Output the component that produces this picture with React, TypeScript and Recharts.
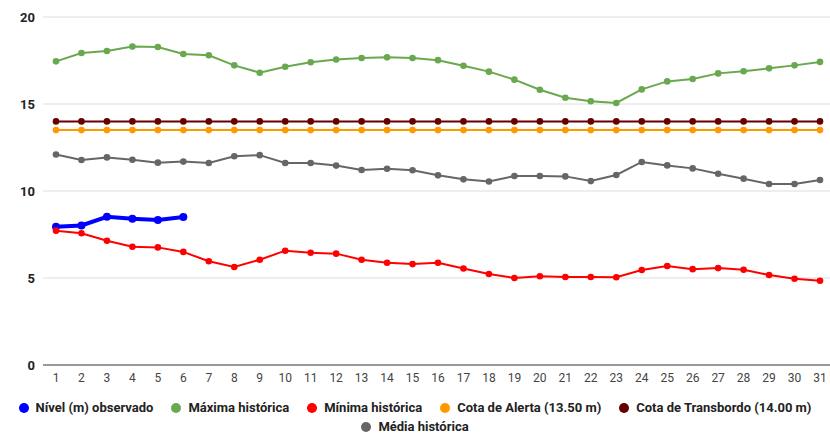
import { LineChart, Line, XAxis, YAxis, CartesianGrid, Legend } from "recharts";

const days = Array.from({ length: 31 }, (_, i) => String(i + 1));

const observed = [7.95, 8.02, 8.52, 8.4, 8.33, 8.5];

const maxHist = [
  17.45, 17.93, 18.05, 18.3, 18.28, 17.87, 17.8, 17.22, 16.8, 17.14, 17.4,
  17.56, 17.64, 17.68, 17.64, 17.52, 17.2, 16.86, 16.4, 15.82, 15.36, 15.16,
  15.06, 15.84, 16.3, 16.44, 16.76, 16.88, 17.05, 17.22, 17.42,
];

const minHist = [
  7.72, 7.57, 7.14, 6.8, 6.76, 6.5, 5.96, 5.63, 6.05, 6.57, 6.45, 6.4, 6.05,
  5.88, 5.8, 5.88, 5.55, 5.23, 5.0, 5.1, 5.06, 5.06, 5.04, 5.46, 5.69, 5.51,
  5.57, 5.47, 5.17, 4.96, 4.84,
];

const meanHist = [
  12.1, 11.78, 11.93, 11.8, 11.63, 11.69, 11.61, 12.0, 12.06, 11.61, 11.61,
  11.46, 11.21, 11.28, 11.19, 10.9, 10.67, 10.55, 10.86, 10.86, 10.84, 10.57,
  10.92, 11.67, 11.47, 11.3, 10.99, 10.71, 10.4, 10.4, 10.63,
];

const alertLevel = 13.5;
const overflowLevel = 14.0;

const yTicks = [0, 5, 10, 15, 20];

const data = days.map((day, i) => ({
  day,
  observed: i < observed.length ? observed[i] : null,
  max: maxHist[i],
  min: minHist[i],
  alert: alertLevel,
  overflow: overflowLevel,
  mean: meanHist[i],
}));

const series = [
  { key: "observed", name: "Nível (m) observado", color: "#0000ff", width: 4, r: 4 },
  { key: "max", name: "Máxima histórica", color: "#6aa84f", width: 2, r: 3.3 },
  { key: "min", name: "Mínima histórica", color: "#ff0000", width: 2, r: 3.3 },
  { key: "alert", name: "Cota de Alerta (13.50 m)", color: "#ff9900", width: 2, r: 3.3 },
  { key: "overflow", name: "Cota de Transbordo (14.00 m)", color: "#660000", width: 2, r: 3.3 },
  { key: "mean", name: "Média histórica", color: "#666666", width: 2, r: 3.3 },
];

const font = "Roboto, Arial, sans-serif";

function LegendBox() {
  return (
    <div
      style={{
        height: 45,
        paddingTop: 8,
        boxSizing: "border-box",
        display: "flex",
        flexWrap: "wrap",
        justifyContent: "center",
        fontFamily: font,
        fontSize: 13,
        fontWeight: 700,
        color: "#222",
        lineHeight: "19px",
      }}
    >
      {series.map((s) => (
        <div key={s.key} style={{ display: "flex", alignItems: "center", margin: "0 9px" }}>
          <span
            style={{
              display: "inline-block",
              width: 10,
              height: 10,
              borderRadius: "50%",
              background: s.color,
              marginRight: 7,
            }}
          />
          <span>{s.name}</span>
        </div>
      ))}
    </div>
  );
}

export default function App() {
  return (
    <div style={{ position: "absolute", left: 0, top: 0, width: 830, height: 435, background: "#fff" }}>
      <LineChart
        width={830}
        height={435}
        data={data}
        margin={{ top: 17, right: 0, bottom: 0, left: 0 }}
        style={{ fontFamily: font }}
      >
        <CartesianGrid vertical={false} stroke="#dddddd" />
        <XAxis
          dataKey="day"
          height={25}
          padding={{ left: 13, right: 10 }}
          tickLine={false}
          axisLine={{ stroke: "#999999", strokeWidth: 2 }}
          tick={{ fill: "#444444", fontSize: 12 }}
          interval={0}
        />
        <YAxis
          domain={[0, 20]}
          ticks={yTicks}
          width={43}
          axisLine={false}
          tickLine={false}
          tick={{ fill: "#222222", fontSize: 13, fontWeight: 700 }}
        />
        <Legend verticalAlign="bottom" content={() => <LegendBox />} />
        {series.map((s) => (
          <Line
            key={s.key}
            type="linear"
            dataKey={s.key}
            name={s.name}
            stroke={s.color}
            strokeWidth={s.width}
            dot={{ r: s.r, fill: s.color, stroke: s.color, strokeWidth: 0 }}
            activeDot={false}
            isAnimationActive={false}
          />
        ))}
      </LineChart>
    </div>
  );
}
